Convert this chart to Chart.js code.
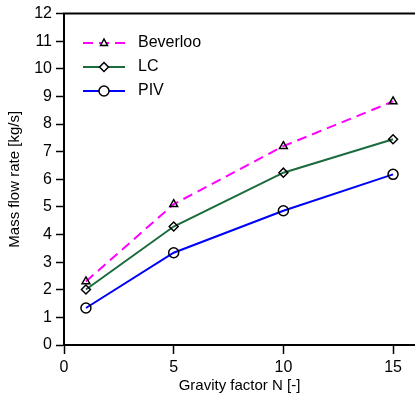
<!DOCTYPE html>
<html>
<head>
<meta charset="utf-8">
<script src="https://cdn.jsdelivr.net/npm/chart.js@4.4.0/dist/chart.umd.min.js"></script>
<style>
  html, body { margin: 0; padding: 0; background: #fff; overflow: hidden; }
  #wrap { width: 415px; height: 395px; }
</style>
</head>
<body>
<div id="wrap"><canvas id="flowChart"></canvas></div>
<script>
const gravityFactor = [1, 5, 10, 15];
const beverloo = [2.30, 5.10, 7.20, 8.82];
const lcFlow = [2.01, 4.29, 6.24, 7.45];
const pivFlow = [1.34, 3.34, 4.86, 6.18];
const xTickValues = [0, 5, 10, 15];

const font = 'Liberation Sans, Arial, sans-serif';

const toPoints = ys => gravityFactor.map((x, i) => ({ x: x, y: ys[i] }));

// top frame line + legend with line segment and marker
const framePlugin = {
    id: 'frame',
    afterDraw(chart) {
        const ctx = chart.ctx;
        const area = chart.chartArea;
        ctx.save();
        ctx.strokeStyle = '#000';
        ctx.lineWidth = 2;
        ctx.beginPath();
        ctx.moveTo(area.left - 1, area.top);
        ctx.lineTo(area.right, area.top);
        ctx.stroke();

        chart.data.datasets.forEach((ds, i) => {
            const y = 43 + 24 * i;
            ctx.strokeStyle = ds.borderColor;
            ctx.lineWidth = ds.borderWidth;
            ctx.setLineDash(ds.borderDash || []);
            ctx.beginPath();
            ctx.moveTo(83, y);
            ctx.lineTo(125, y);
            ctx.stroke();
            ctx.setLineDash([]);
            ctx.strokeStyle = '#000';
            ctx.lineWidth = 1.5;
            ctx.fillStyle = '#fff';
            const cx = 104;
            ctx.beginPath();
            if (ds.pointStyle === 'triangle') {
                ctx.moveTo(cx, y - 4);
                ctx.lineTo(cx + 3.5, y + 2.5);
                ctx.lineTo(cx - 3.5, y + 2.5);
                ctx.closePath();
            } else if (ds.pointStyle === 'rectRot') {
                ctx.moveTo(cx, y - 4.5);
                ctx.lineTo(cx + 4.5, y);
                ctx.lineTo(cx, y + 4.5);
                ctx.lineTo(cx - 4.5, y);
                ctx.closePath();
            } else {
                ctx.arc(cx, y, 5, 0, Math.PI * 2);
            }
            ctx.fill();
            ctx.stroke();
            ctx.fillStyle = '#000';
            ctx.font = '16px ' + font;
            ctx.textBaseline = 'middle';
            ctx.fillText(ds.label, 138, y);
        });
        ctx.restore();
    }
};

const ctx = document.getElementById('flowChart').getContext('2d');
new Chart(ctx, {
    type: 'line',
    data: {
        datasets: [
            { label: 'Beverloo', data: toPoints(beverloo), borderColor: '#ff00ff', borderWidth: 2,
              borderDash: [10, 6], pointStyle: 'triangle', pointRadius: 4.5,
              pointBorderColor: '#000', pointBackgroundColor: 'rgba(0,0,0,0)', pointBorderWidth: 1.5 },
            { label: 'LC', data: toPoints(lcFlow), borderColor: '#1a6b3e', borderWidth: 2,
              pointStyle: 'rectRot', pointRadius: 4.5,
              pointBorderColor: '#000', pointBackgroundColor: 'rgba(0,0,0,0)', pointBorderWidth: 1.5 },
            { label: 'PIV', data: toPoints(pivFlow), borderColor: '#0000ff', borderWidth: 2,
              pointStyle: 'circle', pointRadius: 5,
              pointBorderColor: '#000', pointBackgroundColor: 'rgba(0,0,0,0)', pointBorderWidth: 1.5 }
        ]
    },
    options: {
        responsive: true,
        maintainAspectRatio: false,
        animation: false,
        layout: { autoPadding: false, padding: { top: 13, right: 0, left: 0, bottom: 0 } },
        plugins: { legend: { display: false }, tooltip: { enabled: false } },
        scales: {
            x: {
                type: 'linear',
                min: 0,
                max: 16,
                afterBuildTicks: scale => { scale.ticks = xTickValues.map(v => ({ value: v })); },
                afterFit: scale => { scale.height = 50; },
                ticks: { color: '#000', font: { family: font, size: 16 }, padding: 4, maxRotation: 0 },
                grid: { drawOnChartArea: false, tickLength: 9, tickColor: '#000', tickWidth: 1.5 },
                border: { color: '#000', width: 2 },
                title: { display: true, text: 'Gravity factor N [-]', color: '#000',
                         font: { family: font, size: 15 }, padding: { top: 0, bottom: 0 } }
            },
            y: {
                min: 0,
                max: 12,
                afterFit: scale => { scale.width = 64; },
                ticks: { stepSize: 1, color: '#000', font: { family: font, size: 16 }, padding: 4 },
                grid: { drawOnChartArea: false, tickLength: 8, tickColor: '#000', tickWidth: 1.5 },
                border: { color: '#000', width: 2 },
                title: { display: true, text: 'Mass flow rate [kg/s]', color: '#000',
                         font: { family: font, size: 15 }, padding: { top: 6, bottom: 0 } }
            }
        }
    },
    plugins: [framePlugin]
});
</script>
</body>
</html>
